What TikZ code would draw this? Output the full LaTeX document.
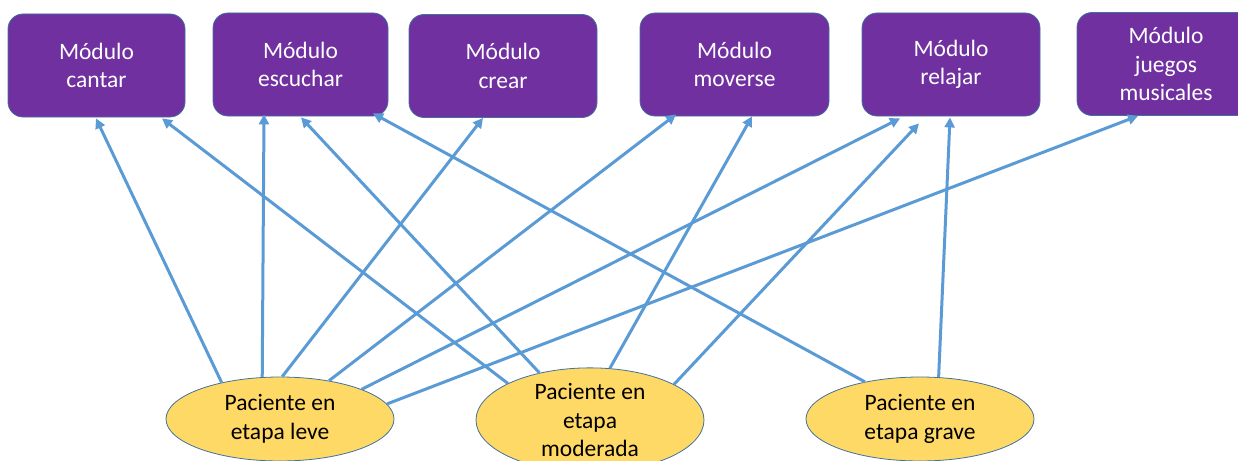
\documentclass[tikz,border=0pt]{standalone}
\usepackage{fontspec}
\setmainfont{Carlito}
\usetikzlibrary{arrows.meta,shapes.geometric}

\definecolor{modfill}{HTML}{7030A0}
\definecolor{modline}{HTML}{41719C}
\definecolor{patfill}{HTML}{FFD966}
\definecolor{linkblue}{HTML}{5B9BD5}

\tikzset{
  modulo/.style={rectangle, rounded corners=15pt, fill=modfill, draw=modline,
    line width=0.8pt, minimum height=103pt, text=white, align=center,
    font=\fontsize{23.5}{28.7}\selectfont, inner sep=0pt},
  paciente/.style={ellipse, fill=patfill, draw=modline, line width=0.8pt,
    minimum width=228pt, minimum height=84pt, inner sep=0pt, align=center,
    font=\fontsize{23.5}{28.7}\selectfont},
  enlace/.style={draw=linkblue, line width=3pt,
    -{Triangle[length=10pt,width=10pt]}},
}

\begin{document}
\begin{tikzpicture}[x=1pt,y=-1pt]
\clip (0,0) rectangle (1238,460);

% module boxes along the top
\node[modulo, minimum width=177pt] (cantar)   at (96.5,65.5) {Módulo\\cantar};
\node[modulo, minimum width=175pt] (escuchar) at (300.5,64.5) {Módulo\\escuchar};
\node[modulo, minimum width=188pt] (crear)    at (503,66) {Módulo\\crear};
\node[modulo, minimum width=189pt] (moverse)  at (734.5,64.5) {Módulo\\moverse};
\node[modulo, minimum width=178pt] (relajar)  at (951,64.5) {Módulo\\relajar};
\node[modulo, minimum width=178pt] (juegos)   at (1166,64) {Módulo\\juegos\\musicales};

% patient stages along the bottom
\node[paciente] (leve)     at (280,419) {Paciente en\\etapa leve};
\node[paciente] (moderada) at (590,420) {Paciente en\\etapa\\moderada};
\node[paciente] (grave)    at (920,419) {Paciente en\\etapa grave};

% mild stage
\draw[enlace] (leve.148)  -- ([xshift=-0.5pt,yshift=-1pt]cantar.south);
\draw[enlace] (leve.113)  -- ([xshift=-36.5pt,yshift=2pt]escuchar.south);
\draw[enlace] (leve.87.5) -- ([xshift=-20pt]crear.south);
\draw[enlace] (leve.38)   -- ([xshift=-58.5pt,yshift=2pt]moverse.south);
\draw[enlace] (leve.20.5) -- ([xshift=-51pt,yshift=-2pt]relajar.south);
\draw[enlace] (leve.8.7)  -- ([xshift=-28pt]juegos.south);

% moderate stage
\draw[enlace] (moderada.156) -- ([xshift=65.5pt,yshift=-1pt]cantar.south);
\draw[enlace] (moderada.137) -- ([xshift=0.5pt,yshift=-1pt]escuchar.south);
\draw[enlace] (moderada.69)  -- ([xshift=17.5pt]moverse.south);
\draw[enlace] (moderada.23)  -- ([xshift=-32pt,yshift=-7pt]relajar.south);

% severe stage
\draw[enlace] (grave.146) -- ([xshift=72.5pt,yshift=3pt]escuchar.south);
\draw[enlace] (grave.66)  -- ([xshift=-1pt,yshift=-1pt]relajar.south);
\end{tikzpicture}
\end{document}
